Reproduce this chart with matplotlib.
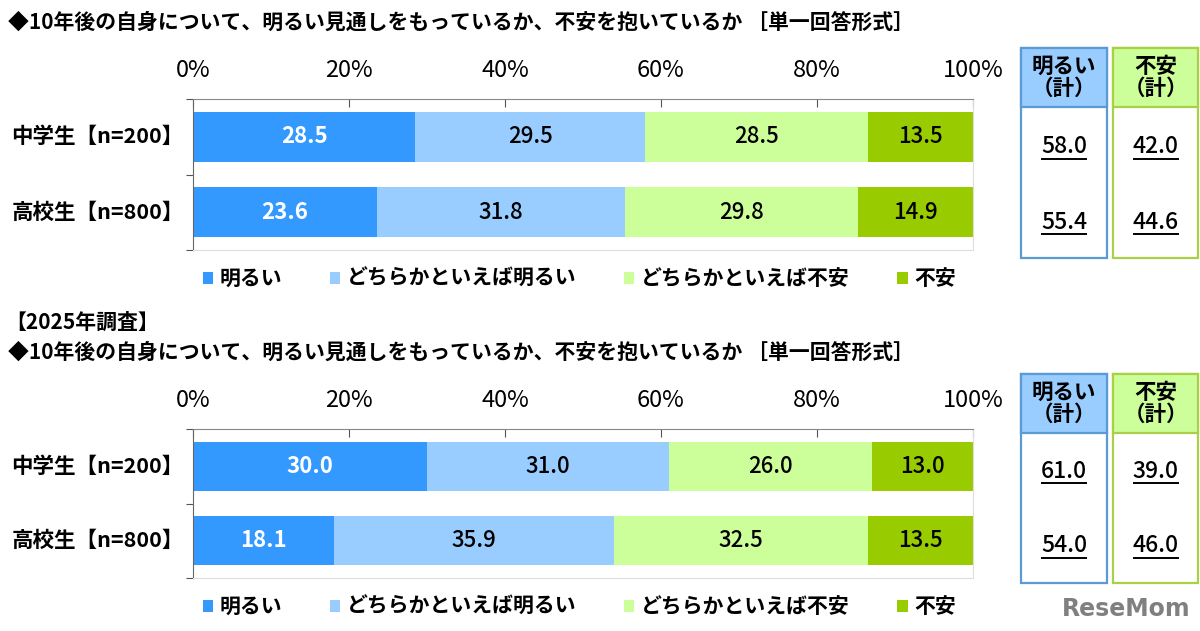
import numpy as np
import matplotlib
matplotlib.use('Agg')
import matplotlib.pyplot as plt
import matplotlib.transforms as mtransforms
from matplotlib.patches import Rectangle

plt.rcParams['font.family'] = ['Noto Sans CJK JP', 'DejaVu Sans']

# data
categories = ['中学生【n=200】', '高校生【n=800】']
series_names = ['明るい', 'どちらかといえば明るい', 'どちらかといえば不安', '不安']
title = '◆10年後の自身について、明るい見通しをもっているか、不安を抱いているか ［単一回答形式］'
survey_label = '【2025年調査】'

# top panel
top_bright = [28.5, 23.6]
top_rather_bright = [29.5, 31.8]
top_rather_anxious = [28.5, 29.8]
top_anxious = [13.5, 14.9]
top_total_bright = [58.0, 55.4]
top_total_anxious = [42.0, 44.6]

# bottom panel (2025)
bot_bright = [30.0, 18.1]
bot_rather_bright = [31.0, 35.9]
bot_rather_anxious = [26.0, 32.5]
bot_anxious = [13.0, 13.5]
bot_total_bright = [61.0, 54.0]
bot_total_anxious = [39.0, 46.0]

colors = ['#3399FF', '#99CCFF', '#CCFF99', '#99CC00']
label_colors = ['white', 'black', 'black', 'black']
label_weights = ['bold', 'medium', 'medium', 'medium']

W, H = 1200, 631
fig = plt.figure(figsize=(12, 6.31), dpi=100)
ov = fig.add_axes([0, 0, 1, 1])
ov.set_xlim(0, W)
ov.set_ylim(H, 0)
ov.axis('off')


def px_axes(left, top, right, bottom):
    return fig.add_axes([left / W, 1 - bottom / H, (right - left) / W, (bottom - top) / H])


def draw_panel(ax, data, tot_bright, tot_anx, box_top, box_head, box_bottom, val_off):
    y = np.arange(len(categories))
    left = np.zeros(len(categories))
    for vals, name, col, tcol, tw in zip(data, series_names, colors, label_colors, label_weights):
        vals = np.array(vals)
        bars = ax.barh(y, vals, left=left, height=0.66, color=col, label=name)
        for b, v in zip(bars, vals):
            ax.text(b.get_x() + b.get_width() / 2, b.get_y() + b.get_height() / 2,
                    f'{v:.1f}', ha='center', va='center', color=tcol,
                    fontsize=16, fontweight=tw)
        left += vals
    ax.set_xlim(0, 100)
    ax.set_ylim(1.5, -0.5)
    ax.xaxis.tick_top()
    ax.set_xticks(np.arange(0, 101, 20))
    ax.set_xticklabels([f'{t}%' for t in range(0, 101, 20)])
    ax.tick_params(axis='x', direction='in', length=6, pad=12, labelsize=17, color='#555555')
    ax.set_yticks([-0.5, 0.5, 1.5])
    ax.set_yticklabels([])
    ax.tick_params(axis='y', direction='out', length=5, color='#555555')
    ax.spines['top'].set_color('#888888')
    ax.spines['left'].set_color('#666666')
    ax.spines['right'].set_color('#dddddd')
    ax.spines['bottom'].set_color('#dddddd')

    tr = mtransforms.blended_transform_factory(ax.transAxes, ax.transData)
    for i, c in enumerate(categories):
        ax.text(-0.012, i, c, transform=tr, ha='right', va='center',
                fontsize=15.5, fontweight='bold')

    ax.legend(loc='upper center', bbox_to_anchor=(0.495, -0.065), ncol=4, frameon=False,
              prop={'size': 15, 'weight': 'bold'}, handlelength=0.5, handleheight=0.5,
              handletextpad=0.3, columnspacing=2.3, borderaxespad=0)

    # total boxes
    boxes = [(1021, 1107, '#99CCFF', '#5B9BD5', '明るい\n（計）', tot_bright),
             (1113, 1198, '#CCFF99', '#A9D046', '不安\n（計）', tot_anx)]
    vtr = mtransforms.blended_transform_factory(ov.transData, ax.transData)
    vtr = mtransforms.offset_copy(vtr, fig=fig, y=-val_off, units='dots')
    ltr = mtransforms.offset_copy(vtr, fig=fig, y=-12, units='dots')
    for x0, x1, fill, edge, head, vals in boxes:
        ov.add_patch(Rectangle((x0, box_top), x1 - x0, box_bottom - box_top,
                               facecolor='white', edgecolor=edge, linewidth=1.6))
        ov.add_patch(Rectangle((x0, box_top), x1 - x0, box_head - box_top,
                               facecolor=fill, edgecolor=edge, linewidth=1.6))
        xc = (x0 + x1) / 2
        ov.text(xc, (box_top + box_head) / 2, head, ha='center', va='center',
                fontsize=15.5, fontweight='bold', linespacing=1.05)
        for i, v in enumerate(vals):
            ov.text(xc, i, f'{v:.1f}', transform=vtr, ha='center', va='center',
                    fontsize=16.5, fontweight='medium')
            ov.plot([xc - 22, xc + 22], [i, i], transform=ltr, color='black', linewidth=1.4)


ov.text(8, 22, title, ha='left', va='center', fontsize=15, fontweight='bold')
ax1 = px_axes(193, 99, 973, 250)
draw_panel(ax1, [top_bright, top_rather_bright, top_rather_anxious, top_anxious],
           top_total_bright, top_total_anxious, 48, 107, 258, 10)

ov.text(5, 322, survey_label, ha='left', va='center', fontsize=15, fontweight='bold')
ov.text(8, 352, title, ha='left', va='center', fontsize=15, fontweight='bold')
ax2 = px_axes(193, 429, 973, 578)
draw_panel(ax2, [bot_bright, bot_rather_bright, bot_rather_anxious, bot_anxious],
           bot_total_bright, bot_total_anxious, 374, 433, 583, 5)

ov.text(1190, 609, 'ReseMom', ha='right', va='center', color='#808080',
        fontsize=17, fontweight='bold', family='DejaVu Sans')

fig.savefig('out.png', dpi=100)
